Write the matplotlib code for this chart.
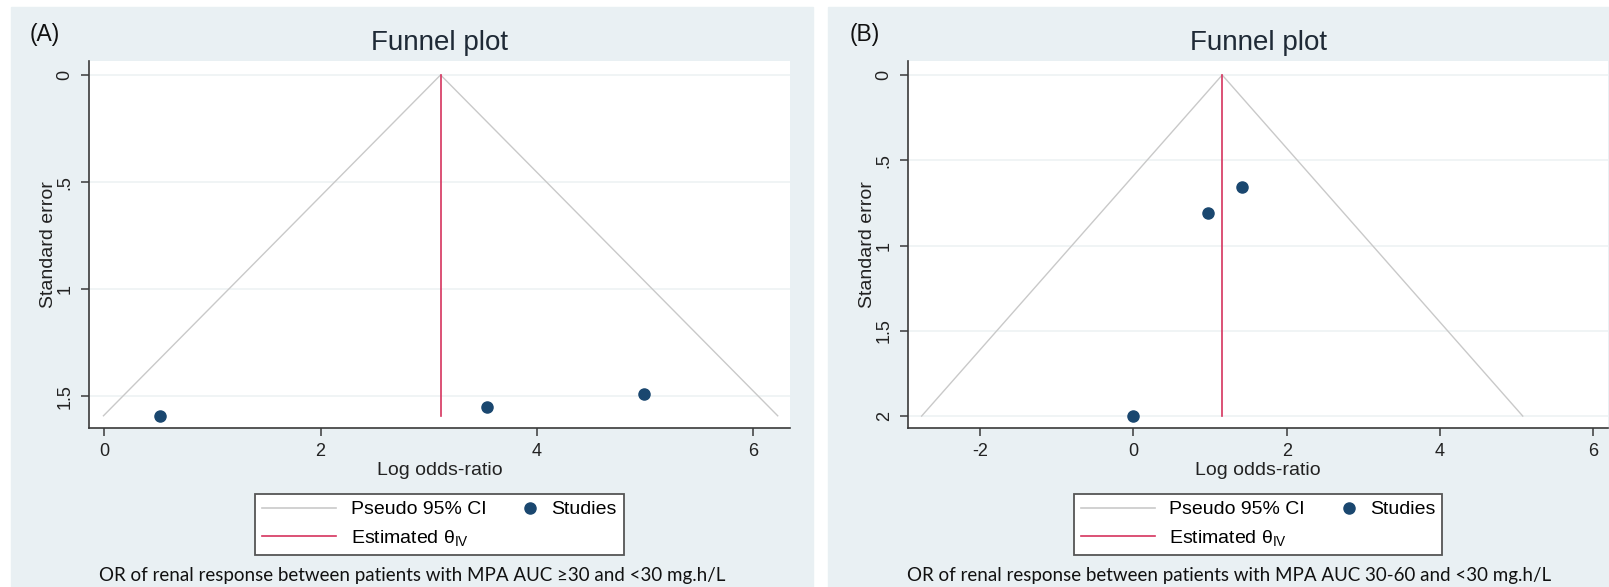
import numpy as np
import matplotlib
matplotlib.use("Agg")
import matplotlib.pyplot as plt
from matplotlib.lines import Line2D
from matplotlib.patches import Rectangle
from matplotlib.legend_handler import HandlerLine2D

plt.rcParams['font.family'] = ['Liberation Sans', 'DejaVu Sans']
plt.rcParams['mathtext.fontset'] = 'custom'
plt.rcParams['mathtext.rm'] = 'Liberation Sans'
plt.rcParams['mathtext.it'] = 'Liberation Sans'

# panel A: MPA AUC >=30 vs <30
a_lor = [0.52, 3.54, 4.99]
a_se = [1.59, 1.55, 1.49]
a_theta = 3.11
a_xticks = [0, 2, 4, 6]
a_yticks = [0, 0.5, 1, 1.5]
a_yticklabels = ['0', '.5', '1', '1.5']
a_caption = 'OR of renal response between patients with MPA AUC \u226530 and <30 mg.h/L'

# panel B: MPA AUC 30-60 vs <30
b_lor = [0.0, 0.975, 1.41]
b_se = [2.0, 0.81, 0.656]
b_theta = 1.158
b_xticks = [-2, 0, 2, 4, 6]
b_yticks = [0, 0.5, 1, 1.5, 2]
b_yticklabels = ['0', '.5', '1', '1.5', '2']
b_caption = 'OR of renal response between patients with MPA AUC 30-60 and <30 mg.h/L'

W, H = 1609, 587
BG = '#E9F0F3'
NAVY = '#1A476F'
RED = '#D6335E'
GRAY = '#C9C9C9'


class DotHandler(HandlerLine2D):
    def create_artists(self, legend, orig_handle, xdescent, ydescent,
                       width, height, fontsize, trans):
        x = width - xdescent - 0.35 * fontsize
        y = (height - ydescent) / 2
        dot = Line2D([x], [y], linestyle='none', marker='o',
                     color=NAVY, markersize=8)
        dot.set_transform(trans)
        return [dot]


fig = plt.figure(figsize=(W / 100, H / 100), dpi=100)


def px(x, y):
    return x / W, 1 - y / H


def panel(bg_x0, bg_x1, ax_x0, ax_x1, xlim, ylim, lor, se, theta,
          xticks, yticks, yticklabels, tag, tag_x, caption, cap_x):
    fig.patches.append(Rectangle(px(bg_x0, 587), (bg_x1 - bg_x0) / W, (587 - 7) / H,
                                 transform=fig.transFigure, color=BG, zorder=-10))
    l, b = px(ax_x0, 428)
    ax = fig.add_axes([l, b, (ax_x1 - ax_x0) / W, (428 - 61) / H])
    ax.set_facecolor('white')

    se_max = max(se)
    ax.plot([theta - 1.96 * se_max, theta, theta + 1.96 * se_max],
            [se_max, 0, se_max], color=GRAY, lw=1.0)
    ax.plot([theta, theta], [0, se_max], color=RED, lw=1.2)
    ax.plot(lor, se, 'o', color=NAVY, markersize=8, zorder=5)

    ax.set_xlim(*xlim)
    ax.set_ylim(*ylim)
    ax.set_xticks(xticks)
    ax.set_xticklabels([str(t) for t in xticks])
    ax.set_yticks(yticks)
    ax.set_yticklabels(yticklabels, rotation=90, va='center')
    ax.grid(axis='y', color='#EDF2F4', lw=1.2)
    ax.set_axisbelow(True)
    for s in ['top', 'right']:
        ax.spines[s].set_visible(False)
    for s in ['left', 'bottom']:
        ax.spines[s].set_color('#3A3A3A')
        ax.spines[s].set_linewidth(1.2)
    ax.tick_params(colors='#3A3A3A', labelcolor='#222222', labelsize=13,
                   length=6, width=1.1, pad=5)
    ax.set_xlabel('Log odds-ratio', fontsize=14, color='#222222', labelpad=1)
    ax.set_ylabel('Standard error', fontsize=14, color='#222222')
    ax.yaxis.set_label_coords(-32 / (ax_x1 - ax_x0), 0.5)

    cx = (ax_x0 + ax_x1) / 2
    fig.text(*px(cx, 43), 'Funnel plot', ha='center', va='center',
             fontsize=20, color='#1F2A36')
    fig.text(*px(tag_x, 35), tag, ha='left', va='center', fontsize=16.5, color='#111111')
    fig.text(*px(cap_x, 575), caption, ha='center', va='center',
             fontsize=13.5, family=['Lato', 'DejaVu Sans'], color='#111111')

    h_ci = Line2D([], [], color=GRAY, lw=1.2)
    h_th = Line2D([], [], color=RED, lw=1.2)
    h_st = Line2D([], [], linestyle='none', marker='o', color=NAVY)
    leg = fig.legend([h_ci, h_th, h_st],
                     ['Pseudo 95% CI', r'Estimated $\mathregular{\theta}_{\mathregular{IV}}$', 'Studies'],
                     ncol=2, loc='upper center', bbox_to_anchor=px(cx, 494),
                     fontsize=14, handlelength=3.8, handletextpad=0.75,
                     columnspacing=-1.2, labelspacing=0.5, borderpad=0.35,
                     borderaxespad=0,
                     frameon=True, fancybox=False, framealpha=1,
                     edgecolor='#555555', handler_map={h_st: DotHandler()})
    leg.get_frame().set_linewidth(1.3)
    return ax


panel(11, 813, 89, 790, (-0.14, 6.34), (1.647, -0.065), a_lor, a_se, a_theta,
      a_xticks, a_yticks, a_yticklabels, '(A)', 30, a_caption, 412)
panel(828, 1609, 908, 1608, (-2.94, 6.19), (2.07, -0.082), b_lor, b_se, b_theta,
      b_xticks, b_yticks, b_yticklabels, '(B)', 850, b_caption, 1229)

fig.savefig('out.png', dpi=100, facecolor='white')
